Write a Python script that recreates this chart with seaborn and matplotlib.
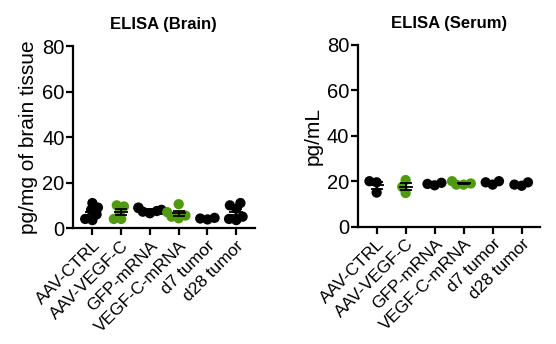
import numpy as np
import pandas as pd
import matplotlib
matplotlib.use("Agg")
import matplotlib.pyplot as plt
import seaborn as sns

categories = ["AAV-CTRL", "AAV-VEGF-C", "GFP-mRNA", "VEGF-C-mRNA", "d7 tumor", "d28 tumor"]
group_colors = ["#000000", "#4F9A10", "#000000", "#4F9A10", "#000000", "#000000"]

brain_ctrl = [11, 9, 8, 6, 4, 3.5]
brain_vegfc = [10, 9.5, 7, 4, 4]
brain_gfp = [9, 8.8, 8, 7.5, 7.2, 6.5]
brain_vegfc_mrna = [10.5, 7, 5.5, 5, 4.3]
brain_d7 = [3.8, 4.2, 4.5]
brain_d28 = [11, 10, 8.5, 5, 4, 3.5]

serum_ctrl = [20, 19.5, 15]
serum_vegfc = [20.5, 17.5, 14.8]
serum_gfp = [18.2, 19.3, 18.8]
serum_vegfc_mrna = [18.5, 20, 18.5, 19]
serum_d7 = [18.5, 20, 19.5]
serum_d28 = [18, 19.5, 18.5]

yticks = [0, 20, 40, 60, 80]

brain = [brain_ctrl, brain_vegfc, brain_gfp, brain_vegfc_mrna, brain_d7, brain_d28]
serum = [serum_ctrl, serum_vegfc, serum_gfp, serum_vegfc_mrna, serum_d7, serum_d28]


def to_df(groups):
    rows = []
    for cat, vals in zip(categories, groups):
        for v in vals:
            rows.append((cat, v))
    return pd.DataFrame(rows, columns=["group", "value"])


sns.set_style("ticks", {"axes.edgecolor": "black", "text.color": "black",
                        "axes.labelcolor": "black", "xtick.color": "black",
                        "ytick.color": "black"})
plt.rcParams["font.family"] = ["Liberation Sans", "DejaVu Sans"]

fig = plt.figure(figsize=(5.56, 3.44), dpi=100)
ax1 = fig.add_axes([0.131, 0.337, 0.327, 0.529])
ax2 = fig.add_axes([0.643, 0.341, 0.328, 0.529])

palette = dict(zip(categories, group_colors))


def panel(ax, groups, title, ylabel, xlim):
    df = to_df(groups)
    sns.swarmplot(data=df, x="group", y="value", hue="group", order=categories,
                  palette=palette, size=5.0, legend=False, ax=ax, zorder=2)
    for i, vals in enumerate(groups):
        m = np.mean(vals)
        se = np.std(vals, ddof=1) / np.sqrt(len(vals))
        ax.hlines(m, i - 0.24, i + 0.24, color="black", lw=1.3, zorder=3)
        ax.errorbar(i, m, yerr=se, fmt="none", ecolor="black", elinewidth=1.3,
                    capsize=4.5, capthick=1.3, zorder=3)
    ax.set_ylim(0, 80)
    ax.set_yticks(yticks)
    ax.set_xlim(*xlim)
    ax.set_xlabel("")
    ax.set_ylabel(ylabel, fontsize=15, labelpad=3, color="black")
    ax.set_title(title, fontsize=12, fontweight="bold", pad=12, color="black")
    for s in ["top", "right"]:
        ax.spines[s].set_visible(False)
    for s in ["left", "bottom"]:
        ax.spines[s].set_linewidth(1.6)
        ax.spines[s].set_color("black")
    ax.tick_params(axis="y", labelsize=14.5, width=1.6, length=5, pad=1,
                   colors="black")
    ax.tick_params(axis="x", labelsize=12.5, width=1.6, length=5, pad=2,
                   colors="black")
    ax.set_xticks(range(len(categories)))
    ax.set_xticklabels(categories, rotation=45, ha="right", rotation_mode="anchor")


panel(ax1, brain, "ELISA (Brain)", "pg/mg of brain tissue", (-0.68, 5.64))
panel(ax2, serum, "ELISA (Serum)", "pg/mL", (-0.66, 5.63))

# lay out the swarms with compact spacing, then enlarge the dots (Prism-style overlap)
fig.canvas.draw()
for ax in (ax1, ax2):
    for coll in ax.collections:
        if "draw" in coll.__dict__:
            del coll.draw
            coll.set_sizes([7.4 ** 2])
            coll.set_linewidth(0)

fig.savefig("out.png", dpi=100)
